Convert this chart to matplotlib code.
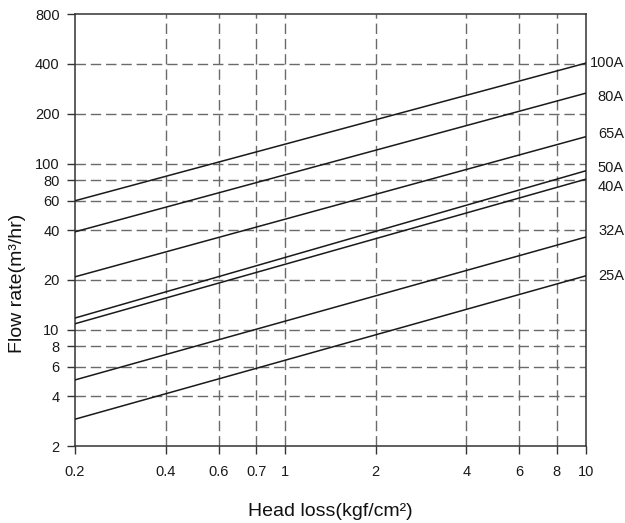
import numpy as np
import matplotlib
matplotlib.use("Agg")
import matplotlib.pyplot as plt
from matplotlib.ticker import FixedLocator, FixedFormatter, NullLocator
import matplotlib.transforms as mtransforms

plt.rcParams['font.family'] = ['Liberation Sans', 'DejaVu Sans']
plt.rcParams['lines.scale_dashes'] = False

# Head loss range (kgf/cm2) at the two ends of every line
head_loss = [0.2, 10]

# flow rate (m3/hr) read at head loss 0.2 and 10
pipe_sizes = ['100A', '80A', '65A', '50A', '40A', '32A', '25A']
flow_start = [60, 39, 20.9, 11.8, 10.9, 5.0, 2.9]
flow_end = [405, 267, 146, 91, 81, 36.3, 21.2]

# tick positions and labels (the "0.7" label sits where 0.8 would be)
x_ticks = [0.2, 0.4, 0.6, 0.8, 1, 2, 4, 6, 8, 10]
x_labels = ['0.2', '0.4', '0.6', '0.7', '1', '2', '4', '6', '8', '10']
y_ticks = [2, 4, 6, 8, 10, 20, 40, 60, 80, 100, 200, 400, 800]
y_labels = [str(v) for v in y_ticks]

fig = plt.figure(figsize=(6.25, 5.23), dpi=100)
ax = fig.add_axes([75 / 625, 1 - 446 / 523, 511 / 625, 432 / 523])
ax.set_xscale('log')
ax.set_yscale('log')
ax.set_xlim(0.2, 10)
ax.set_ylim(2, 800)

grid_style = dict(color='#6a6a6a', linewidth=1.0, linestyle=(0, (7.5, 3.5)), zorder=1)
for xv in x_ticks[1:-1]:
    ax.axvline(xv, **grid_style)
for yv in y_ticks[1:-1]:
    ax.axhline(yv, **grid_style)

# small offsets (points) so the stacked labels don't collide
label_shift = {'80A': -3.0, '40A': -6.0, '32A': 4.5, '65A': 2.0, '50A': 2.0}
trans = mtransforms.blended_transform_factory(fig.transFigure, ax.transData)
for name, q0, q1 in zip(pipe_sizes, flow_start, flow_end):
    ax.plot(head_loss, [q0, q1], color='#1a1a1a', linewidth=1.1, zorder=3)
    off = mtransforms.offset_copy(trans, fig=fig, x=0, y=label_shift.get(name, 0), units='points')
    ax.text(624 / 625, q1, name, transform=off, ha='right', va='center',
            fontsize=10.5, color='#1a1a1a', clip_on=False)

ax.xaxis.set_major_locator(FixedLocator(x_ticks))
ax.xaxis.set_major_formatter(FixedFormatter(x_labels))
ax.xaxis.set_minor_locator(NullLocator())
ax.yaxis.set_major_locator(FixedLocator(y_ticks))
ax.yaxis.set_major_formatter(FixedFormatter(y_labels))
ax.yaxis.set_minor_locator(NullLocator())

ax.tick_params(axis='both', direction='out', length=6, width=1, color='#333333',
               labelsize=10.5, labelcolor='#1a1a1a')
ax.tick_params(axis='x', pad=8)
ax.tick_params(axis='y', pad=5)
for sp in ax.spines.values():
    sp.set_color('#333333')
    sp.set_linewidth(1.1)

fig.text(330 / 625, 1 - 511 / 523, 'Head loss(kgf/cm²)', ha='center', va='center',
         fontsize=14, color='#111111')
fig.text(18 / 625, 1 - 283 / 523, 'Flow rate(m³/hr)', ha='center', va='center',
         rotation=90, fontsize=14, color='#111111')

fig.savefig('out.png', dpi=100)
